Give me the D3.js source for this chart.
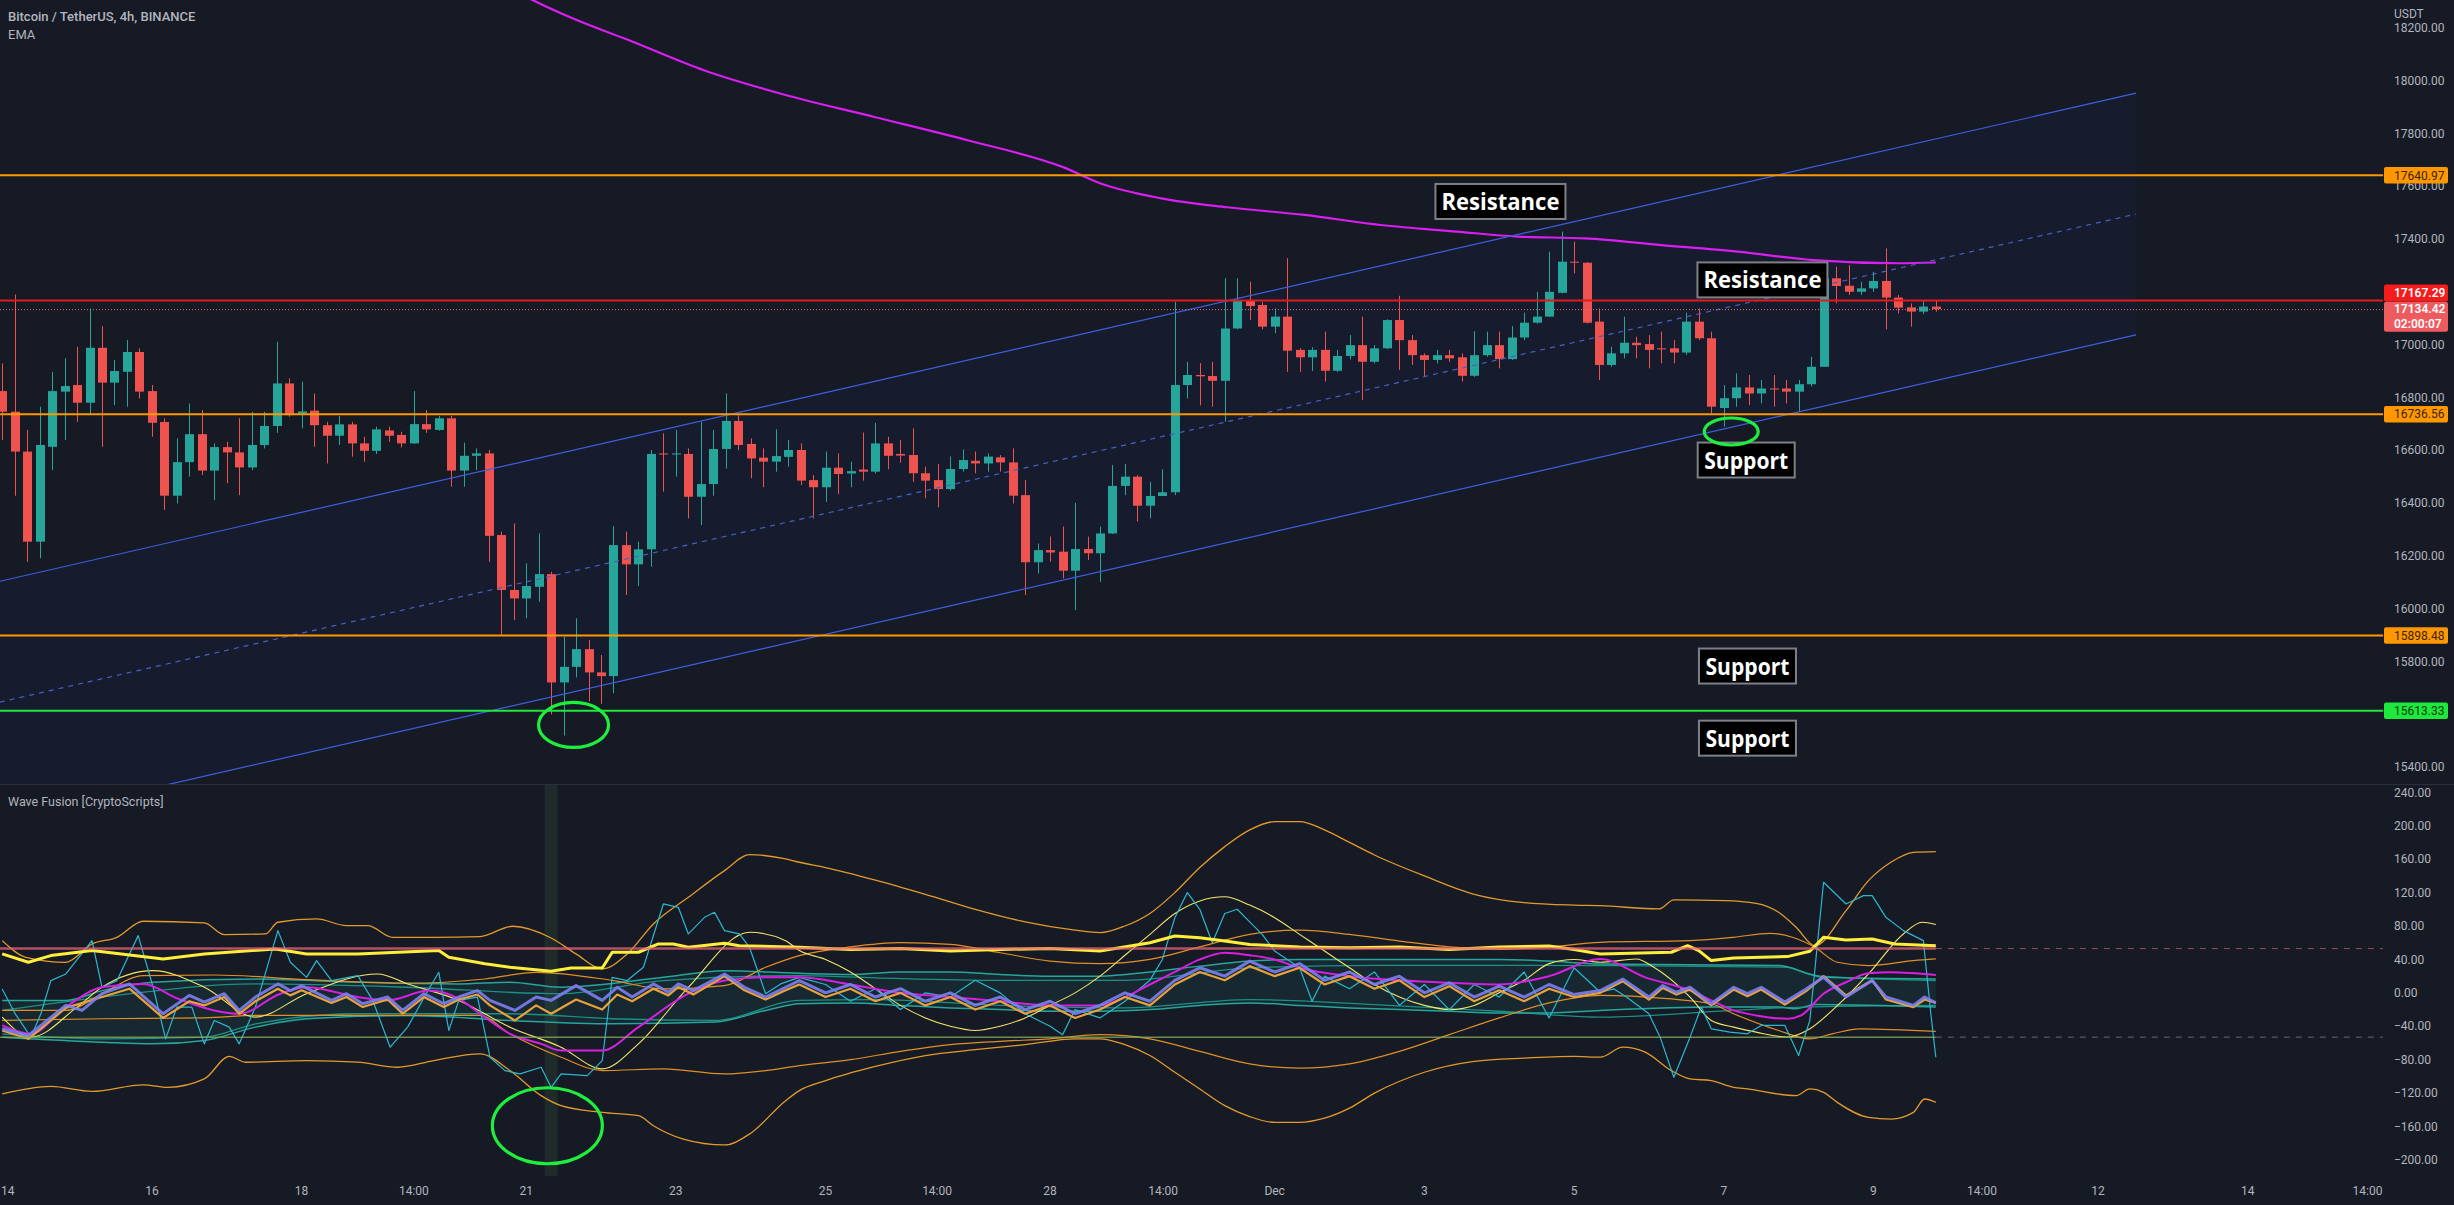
<!DOCTYPE html>
<html><head><meta charset="utf-8">
<script src="https://cdn.jsdelivr.net/npm/d3@7"></script>
<style>html,body{margin:0;padding:0;background:#161a25;overflow:hidden}svg{display:block}</style>
</head><body><svg id="c" width="2454" height="1205"></svg>
<script>
// ---------------- DATA ----------------
const opens  = [16824,16746,16595,16254,16613,16822,16847,16780,16988,16856,16897,16972,16824,16707,16428,16555,16661,16523,16612,16592,16535,16620,16692,16853,16740,16750,16695,16655,16698,16626,16598,16675,16658,16626,16699,16677,16721,16523,16579,16588,16279,16071,16039,16083,16131,15721,15780,15847,15759,15745,16241,16168,16225,16588,16584,16586,16424,16472,16605,16711,16624,16572,16557,16575,16601,16487,16460,16534,16512,16527,16519,16626,16586,16582,16513,16487,16453,16529,16560,16550,16573,16554,16430,16176,16222,16216,16144,16226,16210,16285,16465,16500,16390,16427,16441,16847,16885,16881,16863,17061,17166,17150,17068,17106,16980,16952,16980,16901,16957,16998,16935,16986,17093,17017,16960,16942,16960,16952,16882,16960,16998,16945,17027,17083,17106,17196,17314,17310,17087,16923,16967,17007,17002,16986,16986,16970,17087,17024,16760,16797,16838,16815,16834,16834,16822,16850,16916,17251,17223,17200,17213,17241,17178,17141,17125,17144];
const highs  = [16929,17190,16677,16765,16897,16948,16992,17137,17070,16942,17017,16986,16847,16721,16645,16777,16752,16626,16632,16721,16746,16746,17011,16872,16860,16815,16708,16730,16708,16651,16689,16689,16670,16824,16752,16730,16730,16629,16607,16601,16292,16323,16172,16285,16140,15894,15964,15881,15825,16313,16292,16254,16601,16664,16677,16607,16708,16677,16815,16733,16645,16607,16679,16639,16626,16506,16595,16588,16557,16667,16704,16651,16639,16683,16538,16548,16576,16603,16595,16588,16582,16607,16487,16247,16273,16311,16401,16273,16311,16544,16548,16506,16481,16528,17162,16935,16930,16935,17251,17251,17238,17162,17137,17327,16986,16990,17049,16980,17036,17106,16998,17096,17185,17036,16967,16980,16980,16967,17051,17049,17049,17070,17121,17200,17352,17428,17390,17312,17137,16992,17106,17030,17036,17049,17017,17121,17137,17049,16847,16891,16885,16866,16885,16866,16866,16954,17301,17295,17301,17238,17276,17364,17188,17156,17169,17169];
const lows   = [16639,16428,16178,16191,16525,16639,16708,16733,16613,16771,16765,16796,16651,16374,16399,16500,16506,16411,16475,16430,16525,16607,16666,16727,16683,16613,16550,16620,16576,16557,16586,16632,16611,16624,16666,16674,16462,16462,16525,16178,15900,15957,15964,16027,15600,15520,15740,15650,15640,15680,16052,16086,16159,16443,16500,16342,16317,16428,16531,16600,16494,16460,16519,16538,16468,16342,16405,16434,16460,16485,16512,16528,16553,16481,16418,16384,16447,16519,16513,16519,16519,16399,16052,16134,16178,16115,15995,16184,16102,16283,16430,16330,16342,16427,16430,16796,16770,16765,16708,17058,17093,17058,17043,16897,16897,16900,16860,16897,16944,16790,16929,16983,16904,16923,16881,16929,16935,16860,16878,16954,16910,16942,17017,17080,17106,17194,17270,17080,16866,16916,16948,16948,16910,16929,16929,16961,17017,16740,16689,16765,16771,16777,16765,16777,16746,16841,16916,17156,17188,17188,17200,17058,17118,17068,17115,17125];
const closes = [16746,16595,16254,16620,16824,16843,16780,16988,16856,16900,16972,16822,16704,16428,16555,16661,16523,16612,16592,16535,16620,16692,16853,16733,16747,16695,16655,16698,16626,16598,16679,16655,16626,16699,16679,16721,16523,16579,16588,16276,16071,16039,16086,16131,15721,15780,15847,15759,15745,16241,16168,16225,16586,16584,16588,16424,16472,16605,16711,16620,16569,16557,16578,16601,16485,16460,16534,16510,16521,16519,16626,16579,16580,16513,16485,16453,16529,16563,16550,16576,16554,16428,16176,16222,16213,16144,16226,16210,16285,16465,16500,16390,16427,16441,16847,16885,16880,16863,17061,17166,17146,17068,17106,16977,16952,16980,16901,16957,16998,16935,16986,17093,17017,16960,16942,16960,16948,16882,16960,16998,16945,17027,17083,17106,17200,17314,17312,17083,16923,16967,17007,16998,16980,16982,16970,17087,17024,16765,16797,16838,16815,16834,16830,16822,16850,16916,17251,17222,17200,17213,17241,17178,17140,17125,17144,17134.42];

// EMA (candle index, price)
const emaPts = [[38,18420],[42.5,18305],[46,18230],[50,18157],[56.3,18038],[62.5,17949],[70,17861],[77.6,17771],[85.1,17671],[88,17611],[92.9,17554],[98.2,17520],[104.4,17491],[110.5,17453],[116.6,17428],[121.5,17409],[126.9,17402],[133,17377],[139.1,17352],[145.2,17320],[152,17308],[155,17311]];

// Trend channel (candle index, price)
const chanUpper = [[-0.18,16104],[171.05,17952]];
const chanLower = [[-0.18,15189],[171.05,17037]];

// Horizontal levels
const levelPrices = [17640.97, 17167.29, 16736.56, 15898.48, 15613.33];
const levelKinds  = ["orange","red","orange","orange","green"];
const lastPrice = 17134.42;
const countdown = "02:00:07";

// Annotations
const annText  = ["Resistance","Resistance","Support","Support","Support"];
const annIdx   = [120.1, 141.1, 139.8, 139.9, 139.9];
const annPrice = [17542, 17245, 16563, 15783, 15510];

// Price & time ticks
const priceTicks = d3.range(15400, 18201, 200);
const indTicks = d3.range(-200, 241, 40);
const timeTickDays = [0,2,4,5.5,7,9,11,12.49,14,15.51,17,19,21,23,25,26.45,28,30,31.6];
const timeTickLabels = ["14","16","18","14:00","21","23","25","14:00","28","14:00","Dec","3","5","7","9","14:00","12","14","14:00"];

// Indicator series (candle index, value)
const outerUpper = [[0,62.5],[1.9,42.6],[5.1,36.6],[7.2,58.5],[9.2,66.5],[11.3,85.7],[16.2,83.7],[17.8,69.7],[21.1,70.5],[22.1,84.5],[25.2,88.5],[27.6,80.5],[29.3,80.5],[31.3,66.5],[34.6,66.5],[38.3,67.3],[40.9,79.7],[44,65.7],[46,46.6],[48.1,28.6],[50.1,46.6],[52.2,82.5],[55,114.4],[57.9,146.3],[59.9,165.4],[62.8,160.3],[63.9,156.3],[66,150],[70,135],[74,118],[78,100],[82,85],[86,75],[88,72],[90,80],[92,95],[94,120],[96,150],[98,175],[100,195],[102,205],[104,205],[106,195],[108,180],[110,165],[114,140],[118,118],[122,108],[126,105],[128.1,104.4],[132.8,100.4],[134,111.2],[138.1,110.4],[140.6,107.2],[142.4,96.4],[143.8,78.5],[145.3,56.5],[147.8,98.4],[149.6,134.3],[151.4,156.3],[153.2,168.2],[155,169]];
const outerLower = [[0,-121],[3.9,-112],[7.2,-118],[11.3,-110],[13.3,-113],[16.2,-103],[18.2,-76],[19.5,-83],[24.4,-81],[28.5,-83],[31.7,-89],[34.6,-81],[38.3,-73],[40.7,-93],[43.2,-123],[44.8,-135],[48.1,-143],[51,-147],[52.2,-159],[54.6,-175],[57.9,-182],[59.9,-169],[62.8,-129],[63.9,-117],[66,-105],[70,-88],[74,-75],[78,-68],[82,-62],[86,-55],[88,-55],[90,-62],[92,-75],[94,-95],[96,-115],[98,-135],[100,-148],[102,-155],[104,-155],[106,-150],[108,-138],[110,-120],[114,-95],[118,-82],[122,-78],[126,-76],[128.1,-77],[129.9,-65],[131.7,-71],[133.8,-93],[135.3,-103],[137,-105],[138.8,-113],[139.9,-115],[143.8,-123],[144.9,-115],[146,-119],[147.1,-131],[149.6,-149],[151.4,-151],[153.2,-143],[154.1,-127],[155,-131]];
const innerUpper = [[0,-21],[5.1,-21],[8,-1],[11.3,20.6],[17,21.4],[24.4,15.9],[32.5,11.5],[38.7,16.6],[42.8,24.6],[49,14.7],[53,4.7],[57.9,8.7],[61.2,30.6],[63.9,44.6],[68,55],[72,60],[76,58],[80,48],[84,38],[88,35],[92,40],[96,55],[100,70],[104,75],[108,70],[112,62],[116,55],[120,52],[124,55],[128.1,60.5],[135.3,62.5],[138.8,66.5],[141.7,71.3],[143.5,66.5],[145.3,54.5],[147.1,36.6],[149.6,32.6],[153.2,38.6],[155,40.6]];
const innerLower = [[0,-33],[8,-31],[16.2,-30],[20.3,-27],[28.5,-27],[38.3,-27],[40.7,-49],[44.8,-77],[48.1,-93],[53,-91],[57.9,-97],[61.2,-93],[63.9,-87],[68,-80],[72,-70],[76,-62],[80,-58],[84,-55],[88,-50],[92,-55],[96,-70],[100,-85],[104,-90],[108,-85],[112,-70],[116,-50],[120,-30],[124,-12],[128.1,-3],[133.5,-7],[137,-13],[138.8,-25],[142.4,-45],[144.9,-55],[146.7,-49],[148.9,-43],[155,-46]];
const thickYellow = [[0,46.6],[2.1,36.6],[3.9,44.6],[7.2,50.6],[12.9,40.6],[16.2,46.6],[21.9,52.5],[24.4,46.6],[28.5,46.6],[35,50.6],[35.8,42.6],[38.7,34.8],[40.7,30.6],[44,25.8],[45.6,29.8],[48.1,29.8],[48.9,48.6],[51,48.6],[52.6,58.5],[53.8,58.5],[55,54.5],[57.9,59.3],[59.1,56.5],[63.9,54.5],[68,52],[72,53],[76,50],[80,52],[84,53],[88,50],[92,60],[94,68],[96,66],[98,62],[100,58],[104,55],[108,54],[112,55],[116,52],[120,55],[124,56],[126,52],[128.1,46.6],[133.8,48.6],[135.1,56.5],[136,50.6],[137,38.6],[138.8,41.8],[143.1,43.4],[144.9,49.8],[146,66.5],[147.8,63.3],[149.9,64.5],[151.7,58.5],[155,56.5]];
const cyanLine = [[0,4.7],[1.05,-25.2],[2.3,-53],[3.1,-25],[3.9,14.7],[5.1,22.6],[7.2,62.5],[8,6.7],[9.2,14.7],[10.9,68.5],[12.1,6.7],[13.1,-55],[14,-17],[15.2,-17],[16.2,-61],[17,-33],[18.2,-41],[19,-61],[20.3,-17],[22.1,74.5],[23.1,36.6],[24.4,18.6],[25.2,38.6],[26.4,14.7],[28.5,20.6],[29.7,-9],[31.1,-65],[32.5,-41],[34.2,4.7],[35,24.6],[35.8,-45],[36.6,-9],[38.1,-5],[39.1,-77],[40.3,-93],[41.5,-97],[43.2,-89],[44,-113],[44.8,-97],[46.9,-99],[48.1,-81],[48.9,18.6],[50.1,14.7],[51.4,30.6],[53,106.4],[54.2,102.4],[55,70.5],[56.3,90.4],[57.1,96.4],[57.9,74.5],[59.1,70.5],[59.9,54.5],[61.2,-1],[62.4,10.7],[63.9,18.6],[66,10],[68,-10],[70,5],[72,-20],[74,0],[76,-5],[78,15],[80,0],[82,-25],[84,-40],[85,-50],[86,-20],[88,-30],[90,-10],[92,15],[93,40],[94,90],[95,120],[96,100],[97,60],[98,95],[99,100],[100,85],[101,70],[102,50],[104,30],[105,-10],[106,20],[108,5],[110,25],[112,-15],[114,10],[116,-20],[118,10],[120,-5],[122,25],[124,-30],[126,30],[128.1,0.7],[129.2,4.7],[130.2,-5],[132,-25],[132.9,-53],[134,-101],[135.3,-53],[136.2,-17],[137,-43],[138.5,-47],[139.9,-49],[141,-39],[142.9,-39],[144,-75],[144.9,-33],[146,132.3],[147.8,106.4],[149.2,116.4],[149.9,116.4],[151,90.4],[152.4,74.5],[154,62.5],[154.6,-25],[155,-77]];
const magentaLine = [[0,-39],[2.3,-49],[5.1,-17],[8,6.7],[11.3,10.7],[14.1,-7],[17,-21],[19,-25],[22.3,-1],[24.4,6.7],[28.5,-5],[30.9,-9],[34.2,2.7],[36.6,-7],[38.3,-25],[40.7,-49],[43.2,-61],[44.8,-69],[48.1,-69],[51,-41],[55,-1],[57.9,14.7],[61.2,18.6],[63.9,18.6],[68,10],[72,0],[76,-5],[80,-10],[84,-15],[88,-15],[90,-5],[92,10],[94,25],[96,40],[98,48],[100,45],[102,40],[104,30],[108,20],[112,15],[116,12],[120,10],[124,20],[128.1,40.6],[131.7,18.6],[135.3,2.7],[137,-9],[138.8,-21],[140.6,-27],[143.1,-31],[144.2,-27],[146,-1],[147.8,12.7],[149.6,23.4],[151.4,24.6],[155,21.4]];
const purpleZig = [[0,-43],[2.1,-51],[5.1,-15],[6.4,-21],[8,-1],[10.2,10.7],[12.9,-25],[15,-3],[16.2,-11],[17.8,-1],[19,-21],[20.3,-5],[22.1,10.7],[23.1,2.7],[24,8.7],[26.4,-9],[27.6,-1],[28.9,-13],[30.9,-5],[32.1,-21],[33.8,-1],[35.4,-13],[36.6,-5],[38.1,2.7],[39.1,-9],[41.1,-21],[42.8,-5],[44,-9],[46,8.7],[48.1,-9],[49.3,6.7],[50.5,-5],[52.2,10.7],[53.4,0.7],[54.2,10.7],[55.4,2.7],[57.9,22.6],[59.5,6.7],[61.2,-5],[62.8,6.7],[63.9,14.7],[66,0],[68,10],[70,-5],[72,5],[74,-10],[76,0],[78,-15],[80,-5],[82,-20],[84,-10],[86,-25],[88,-15],[90,0],[92,-10],[94,15],[96,30],[98,20],[100,38],[102,25],[104,35],[106,15],[108,25],[110,10],[112,20],[114,0],[116,12],[118,-5],[120,8],[122,-5],[124,10],[126,-2],[128.1,2.7],[129.9,16.6],[132,-5],[133.1,8.7],[134.2,0.7],[135.3,6.7],[137,-13],[138.8,6.7],[139.9,-1],[141,6.7],[142.9,-11],[144.6,4.7],[146,18.6],[147.8,-5],[149.9,14.7],[151,-5],[153.2,-15],[154.1,-5],[155,-12]];
const orangeZig = [[0,-45],[2.1,-55],[5.1,-18],[8,-5],[10.2,5],[12.9,-30],[15,-10],[16.2,-15],[17.8,-5],[19,-25],[20.3,-10],[22.1,5],[23.1,-3],[24,3],[26.4,-12],[27.6,-5],[28.9,-17],[30.9,-8],[32.1,-25],[33.8,-5],[35.4,-17],[36.6,-8],[38.1,-2],[39.1,-15],[41.1,-33],[42.8,-15],[44,-25],[46,-8],[48.1,-20],[49.3,-2],[50.5,-10],[52.2,5],[53.4,-3],[54.2,7],[55.4,-2],[57.9,20],[59.5,3],[61.2,-8],[62.8,3],[63.9,10],[66,-5],[68,5],[70,-10],[72,0],[74,-15],[76,-5],[78,-20],[80,-10],[82,-25],[84,-15],[86,-30],[88,-20],[90,-5],[92,-15],[94,10],[96,25],[98,15],[100,32],[102,20],[104,30],[106,10],[108,20],[110,5],[112,15],[114,-5],[116,8],[118,-10],[120,3],[122,-10],[124,5],[126,-5],[128.1,0],[129.9,14],[132,-8],[133.1,6],[134.2,-2],[135.3,4],[137,-15],[138.8,4],[139.9,-4],[141,4],[142.9,-14],[144.6,2],[146,20],[147.8,-3],[149.9,15],[151,-8],[153.2,-17],[154.1,-8],[155,-12]];
const tealUpper1 = [[0,-9],[5.1,-9],[8,2.7],[12.1,12.7],[20.3,16.6],[28.5,12.7],[36.6,10.7],[40.7,12.7],[44.8,6.7],[53,18.6],[57.9,26.6],[63.9,23.4],[68,22],[72,25],[76,25],[80,22],[84,20],[88,20],[92,25],[96,32],[100,38],[104,40],[108,40],[112,40],[116,40],[120,40],[124,38],[128.1,34.6],[142.4,32.6],[144.9,22.6],[146,18.6],[155,16.6]];
const tealLower1 = [[0,-53],[8,-59],[12.1,-61],[16.2,-57],[20.3,-41],[24.4,-31],[32.5,-27],[40.7,-33],[48.9,-37],[57.1,-35],[61.2,-21],[63.9,-13],[68,-12],[72,-15],[76,-18],[80,-20],[84,-22],[88,-22],[92,-20],[96,-15],[100,-12],[104,-15],[108,-18],[112,-20],[116,-22],[120,-24],[124,-24],[128.1,-21],[137,-17],[142.4,-17],[143.8,-19],[145.3,-14],[155,-17]];
const tealUpper2 = [[0,-21],[8,-5],[20.3,10.7],[32.5,6.7],[44.8,-1],[53,14.7],[63.9,20.6],[70,18],[80,15],[90,15],[100,30],[110,33],[120,33],[128.1,32.6],[143.1,30.6],[145.3,20.6],[155,14.7]];
const tealLower2 = [[0,-49],[8,-55],[16.2,-53],[20.3,-37],[28.5,-25],[40.7,-25],[48.9,-31],[57.1,-33],[63.9,-9],[70,-8],[80,-15],[90,-18],[100,-8],[110,-14],[120,-22],[128.1,-29],[138.8,-21],[144.2,-17],[155,-15]];
const thinYellow = [[0,-29],[2.3,-53],[6,-17],[8,6.7],[12.1,26.6],[16.2,6.7],[20.3,-29],[24.4,-1],[30.1,22.6],[32.5,10.7],[36.6,-9],[40.7,-41],[44.8,-65],[48.1,-91],[51,-61],[55,6.7],[59.9,72.5],[62.8,62.5],[63.9,50.6],[66,40],[68,25],[70,5],[72,-15],[74,-30],[76,-40],[78,-45],[80,-40],[82,-30],[84,-15],[86,0],[88,20],[90,45],[92,70],[94,95],[96,110],[98,115],[100,105],[102,90],[104,70],[106,50],[108,30],[110,10],[112,-5],[114,-15],[116,-20],[118,-15],[120,0],[122,15],[124,35],[126,40],[128.1,36.6],[131,40.6],[132.4,30.6],[135.3,-5],[137,-33],[138.8,-41],[140.6,-47],[143.1,-53],[144.9,-43],[146.7,-21],[149.6,22.6],[152.4,70.5],[153.9,84.5],[155,81.7]];
const obLevel = 53, osLevel = -53;
const highlightIdx = 44;
const circles = [ // [pane, idx, value, rx, ry]
  ["price", 138.6, 16671, 27, 13.5],
  ["price", 45.8, 15560, 35, 22.5],
  ["ind", 43.7, -159, 55, 38]
];

// ---------------- DRAW ----------------
const W = 2454, H = 1205, plotR = 2383, paneSep = 784;
const svg = d3.select("#c");
const BG = "#161a25", AX = "#b2b5be";
svg.append("rect").attr("width", W).attr("height", H).attr("fill", BG);

const x = d3.scaleLinear().domain([0,155]).range([2.2, 2.2 + 155*12.475]);
const yP = d3.scaleLinear().domain([18000,15400]).range([80.5, 767.2]);
const yI = d3.scaleLinear().domain([240,-200]).range([792.3, 1160]);

const defs = svg.append("defs");
defs.append("clipPath").attr("id","cp").append("rect").attr("x",0).attr("y",0).attr("width",plotR).attr("height",paneSep);
defs.append("clipPath").attr("id","ci").append("rect").attr("x",0).attr("y",paneSep+1).attr("width",plotR).attr("height",H-paneSep-30);

const gP = svg.append("g").attr("clip-path","url(#cp)");
const gI = svg.append("g").attr("clip-path","url(#ci)");

// channel fill
const chanPoly = [chanUpper[0], chanUpper[1], chanLower[1], chanLower[0]];
gP.append("polygon").attr("points", chanPoly.map(d => x(d[0])+","+yP(d[1])).join(" "))
  .attr("fill","rgba(50,80,255,0.045)");

// candles
const up = "#26a69a", dn = "#ef5350";
const cg = gP.append("g");
opens.forEach((o,i) => {
  const c = closes[i], col = c >= o ? up : dn;
  const cx = Math.round(x(i)) + 0.5;
  cg.append("line").attr("x1",cx).attr("x2",cx).attr("y1",yP(highs[i])).attr("y2",yP(lows[i])).attr("stroke",col).attr("stroke-width",1);
  const t = yP(Math.max(o,c)), b = yP(Math.min(o,c));
  cg.append("rect").attr("x",cx-4.5).attr("y",t).attr("width",9).attr("height",Math.max(1,b-t)).attr("fill",col);
});

// EMA
gP.append("path").datum(emaPts).attr("fill","none").attr("stroke","#d81ef0").attr("stroke-width",2.2)
  .attr("d", d3.line().x(d=>x(d[0])).y(d=>yP(d[1])).curve(d3.curveMonotoneX));

// channel lines
const chanCol = "#3f5fe0";
[chanUpper, chanLower].forEach(L => {
  gP.append("line").attr("x1",x(L[0][0])).attr("y1",yP(L[0][1])).attr("x2",x(L[1][0])).attr("y2",yP(L[1][1]))
    .attr("stroke",chanCol).attr("stroke-width",1.2);
});
gP.append("line").attr("x1",x(chanUpper[0][0])).attr("y1",yP((chanUpper[0][1]+chanLower[0][1])/2))
  .attr("x2",x(chanUpper[1][0])).attr("y2",yP((chanUpper[1][1]+chanLower[1][1])/2))
  .attr("stroke","#4a5fc0").attr("stroke-width",1.2).attr("stroke-dasharray","5,5");

// horizontal levels
const kindCol = {orange:"#ff9800", red:"#e31b1b", green:"#1ee83c"};
levelPrices.forEach((p,k) => {
  gP.append("line").attr("x1",0).attr("x2",plotR).attr("y1",yP(p)).attr("y2",yP(p))
    .attr("stroke",kindCol[levelKinds[k]]).attr("stroke-width",2);
});
// current price dotted line
gP.append("line").attr("x1",0).attr("x2",plotR).attr("y1",yP(lastPrice)+0.5).attr("y2",yP(lastPrice)+0.5)
  .attr("stroke","#e0707a").attr("stroke-width",1).attr("stroke-dasharray","1,2");

// annotation boxes
annText.forEach((t,k) => {
  const isRes = t === "Resistance";
  const w = isRes ? 130 : 97, h = 35, tl = isRes ? 118 : 84;
  const cx = x(annIdx[k]), cy = yP(annPrice[k]);
  gP.append("rect").attr("x",cx-w/2).attr("y",cy-h/2).attr("width",w).attr("height",h)
    .attr("fill","#000").attr("stroke","#7d8088").attr("stroke-width",2);
  gP.append("text").attr("x",cx).attr("y",cy+8.5).attr("text-anchor","middle")
    .attr("font-family","'Open Sans', sans-serif").attr("font-weight",700).attr("font-size",23)
    .attr("fill","#fff").attr("textLength",tl).attr("lengthAdjust","spacingAndGlyphs").text(t);
});

// ---------- indicator pane ----------
gI.append("rect").attr("x",x(highlightIdx)-6.5).attr("y",paneSep+1).attr("width",13).attr("height",392)
  .attr("fill","#1f2b2b");

const lineI = d3.line().x(d=>x(d[0])).y(d=>yI(d[1]));
const smooth = d3.line().x(d=>x(d[0])).y(d=>yI(d[1])).curve(d3.curveMonotoneX);

// teal cloud
const cloud = d3.area().x(d=>x(d[0])).y0(d=>yI(d[1])).y1(d=>yI(d[2])).curve(d3.curveMonotoneX);
const lowInterp = i => {
  for (let k=1;k<tealLower1.length;k++){ if (tealLower1[k][0]>=i){const a=tealLower1[k-1],b=tealLower1[k];return a[1]+(b[1]-a[1])*(i-a[0])/(b[0]-a[0]);} }
  return tealLower1[tealLower1.length-1][1];
};
gI.append("path").datum(tealUpper1.map(d=>[d[0], lowInterp(d[0]), d[1]])).attr("d",cloud)
  .attr("fill","rgba(38,166,154,0.10)");

function drawI(data, col, w, curve, op) {
  gI.append("path").datum(data).attr("fill","none").attr("stroke",col).attr("stroke-width",w)
    .attr("stroke-opacity", op||1).attr("stroke-linejoin","round").attr("d", curve ? smooth : lineI);
}
drawI(tealUpper2, "#1d8f84", 1.3, true);
drawI(tealLower2, "#1d8f84", 1.3, true);
drawI(tealUpper1, "#26a69a", 1.5, true);
drawI(tealLower1, "#26a69a", 1.5, true);
drawI(outerUpper, "#e49a2a", 1.3, true);
drawI(outerLower, "#e49a2a", 1.3, true);
drawI(innerUpper, "#e08f25", 1.2, true);
drawI(innerLower, "#e08f25", 1.2, true);
drawI(thinYellow, "#f5e66a", 1.1, true);
drawI(cyanLine, "#2bb7cf", 1.2, false);
drawI(magentaLine, "#d61fe0", 2, true);
drawI(orangeZig, "#e9a23b", 2.2, false);
drawI(purpleZig, "#7d7ff0", 3, false, 0.9);
drawI(thickYellow, "#ffee3a", 3, false);

// OB/OS levels
gI.append("line").attr("x1",0).attr("x2",x(155)).attr("y1",yI(obLevel)).attr("y2",yI(obLevel)).attr("stroke","rgba(230,100,120,0.75)").attr("stroke-width",2.5);
gI.append("line").attr("x1",x(155)).attr("x2",plotR).attr("y1",yI(obLevel)).attr("y2",yI(obLevel)).attr("stroke","rgba(200,100,120,0.7)").attr("stroke-width",1).attr("stroke-dasharray","6,6");
gI.append("line").attr("x1",0).attr("x2",x(155)).attr("y1",yI(osLevel)).attr("y2",yI(osLevel)).attr("stroke","rgba(130,170,90,0.8)").attr("stroke-width",1.5);
gI.append("line").attr("x1",x(155)).attr("x2",plotR).attr("y1",yI(osLevel)).attr("y2",yI(osLevel)).attr("stroke","rgba(150,155,165,0.6)").attr("stroke-width",1).attr("stroke-dasharray","6,6");

// hand-drawn circles
circles.forEach(c => {
  const g = c[0]==="price" ? gP : gI;
  const cy = c[0]==="price" ? yP(c[2]) : yI(c[2]);
  g.append("ellipse").attr("cx",x(c[1])).attr("cy",cy).attr("rx",c[3]).attr("ry",c[4])
    .attr("fill","none").attr("stroke","#1fee3e").attr("stroke-width",3.2);
});

// pane separator
svg.append("line").attr("x1",0).attr("x2",W).attr("y1",paneSep+0.5).attr("y2",paneSep+0.5).attr("stroke","#2a2e39").attr("stroke-width",1);

// ---------- axes ----------
const axFont = "Roboto, 'Liberation Sans', sans-serif";
const pa = svg.append("g");
priceTicks.forEach(p => {
  pa.append("text").attr("x",2394).attr("y",yP(p)).attr("dy","0.35em").attr("font-family",axFont).attr("font-size",12)
    .attr("fill",AX).text(p.toFixed(2));
});
pa.append("rect").attr("x",plotR+1).attr("y",0).attr("width",W-plotR).attr("height",21).attr("fill",BG);
pa.append("text").attr("x",2394).attr("y",14).attr("dy","0.35em").attr("font-family",axFont).attr("font-size",12).attr("fill",AX).text("USDT");

indTicks.forEach(v => {
  pa.append("text").attr("x",2394).attr("y",yI(v)).attr("dy","0.35em").attr("font-family",axFont).attr("font-size",12)
    .attr("fill",AX).text((v<0?"\u2212":"") + Math.abs(v).toFixed(2));
});

function pbox(yc, h, bg, fg, lines, bold) {
  pa.append("rect").attr("x",2384).attr("y",yc-h/2).attr("width",64).attr("height",h).attr("rx",2).attr("fill",bg);
  lines.forEach((t,k) => {
    pa.append("text").attr("x",2394).attr("y",yc - (lines.length-1)*7.5 + k*15).attr("dy","0.35em")
      .attr("font-family",axFont).attr("font-size",12).attr("font-weight",bold?600:400).attr("fill",fg).text(t);
  });
}
const curTop = yP(lastPrice) - 7.4;
levelPrices.forEach((p,k) => {
  const kind = levelKinds[k];
  if (kind === "red") pbox(curTop - 8.6, 17, "#f71b1b", "#ffffff", [p.toFixed(2)], true);
  else if (kind === "green") pbox(yP(p), 16.5, "#1ee83c", "#0b3a10", [p.toFixed(2)]);
  else pbox(yP(p), 16.5, "#ff9800", "#3a2400", [p.toFixed(2)]);
});
pbox(curTop + 15, 30, "#ee5b5f", "#ffffff", [lastPrice.toFixed(2), countdown], true);

// time axis (first label kept inside the left edge)
timeTickDays.forEach((d,k) => {
  const tx = x(d*6), first = tx < 10;
  svg.append("text").attr("x", first ? 1 : tx).attr("y",1191).attr("dy","0.35em").attr("text-anchor", first ? "start" : "middle")
    .attr("font-family",axFont).attr("font-size",12).attr("fill",AX).text(timeTickLabels[k]);
});

// titles
svg.append("text").attr("x",8).attr("y",16).attr("dy","0.35em").attr("font-family",axFont).attr("font-weight",500)
  .attr("font-size",13).attr("fill",AX).text("Bitcoin / TetherUS, 4h, BINANCE");
svg.append("text").attr("x",8).attr("y",34).attr("dy","0.35em").attr("font-family",axFont)
  .attr("font-size",13).attr("fill",AX).text("EMA");
svg.append("text").attr("x",8).attr("y",802).attr("dy","0.35em").attr("font-family",axFont)
  .attr("font-size",12.5).attr("fill",AX).text("Wave Fusion [CryptoScripts]");
</script></body></html>
